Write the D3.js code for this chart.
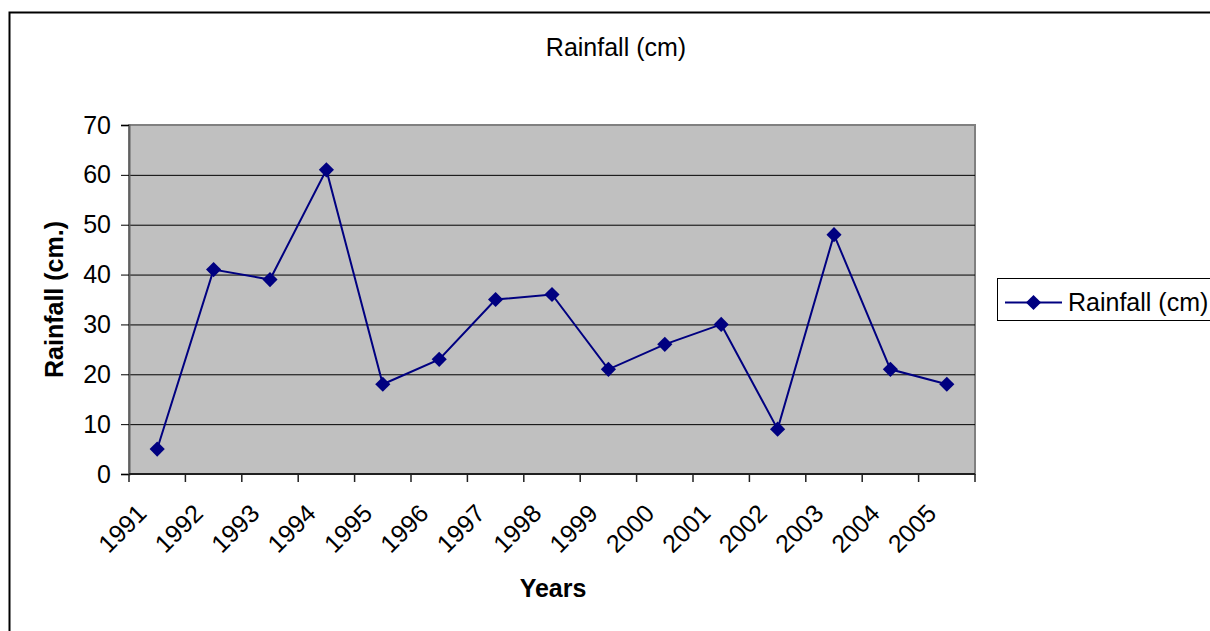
<!DOCTYPE html>
<meta charset="utf-8">
<script src="https://d3js.org/d3.v7.min.js"></script>
<style>
body { margin: 0; background: #fff; }
text { font-family: "Liberation Sans", Arial, sans-serif; fill: #000; }
</style>
<div id="chart"></div>
<script>
// data
var years = ["1991","1992","1993","1994","1995","1996","1997","1998","1999","2000","2001","2002","2003","2004","2005"];
var rainfall = [5, 41, 39, 61, 18, 23, 35, 36, 21, 26, 30, 9, 48, 21, 18];
var yTicks = [0, 10, 20, 30, 40, 50, 60, 70];
var seriesName = "Rainfall (cm)";

var W = 1210, H = 631;
var plot = {left: 129, top: 125, right: 975, bottom: 474};

var svg = d3.select("#chart").append("svg")
  .attr("width", W).attr("height", H);

// outer chart border (runs past the right and bottom edge)
svg.append("rect")
  .attr("x", 9.5).attr("y", 12.5)
  .attr("width", 1400).attr("height", 800)
  .attr("fill", "none").attr("stroke", "#000").attr("stroke-width", 2);

var x = d3.scaleBand().domain(years).range([plot.left, plot.right]).padding(0);
var y = d3.scaleLinear().domain([0, 70]).range([plot.bottom, plot.top]);

// plot area
svg.append("rect")
  .attr("x", plot.left).attr("y", plot.top)
  .attr("width", plot.right - plot.left).attr("height", plot.bottom - plot.top)
  .attr("fill", "#c0c0c0").attr("stroke", "#808080").attr("stroke-width", 2);

// gridlines
svg.append("g").selectAll("line")
  .data(yTicks.filter(function(d){ return d > 0 && d < 70; }))
  .enter().append("line")
    .attr("x1", plot.left).attr("x2", plot.right)
    .attr("y1", function(d){ return y(d) + 0.5; })
    .attr("y2", function(d){ return y(d) + 0.5; })
    .attr("stroke", "#000").attr("stroke-width", 1);

// y axis
var yAxis = svg.append("g")
  .attr("transform", "translate(" + plot.left + ",0)")
  .call(d3.axisLeft(y).tickValues(yTicks).tickSize(8).tickPadding(10));
yAxis.select(".domain").attr("stroke", "#606060").attr("stroke-width", 2);
yAxis.selectAll(".tick line").attr("stroke", "#000");
yAxis.selectAll(".tick text").style("font-size", "25px").attr("fill", "#000");

// x axis: ticks on category boundaries
var bounds = years.map(function(d){ return x(d); }).concat([plot.right]);
svg.append("line")
  .attr("x1", plot.left).attr("x2", plot.right)
  .attr("y1", plot.bottom).attr("y2", plot.bottom)
  .attr("stroke", "#202020").attr("stroke-width", 2);
svg.append("g").selectAll("line")
  .data(bounds).enter().append("line")
    .attr("x1", function(d){ return d; }).attr("x2", function(d){ return d; })
    .attr("y1", plot.bottom).attr("y2", plot.bottom + 8)
    .attr("stroke", "#202020").attr("stroke-width", 1.5);

svg.append("g").selectAll("text")
  .data(years).enter().append("text")
    .attr("transform", function(d){
      return "translate(" + (x(d) + x.bandwidth() / 2 - 9) + "," + (plot.bottom + 41) + ") rotate(-45)";
    })
    .attr("text-anchor", "end")
    .style("font-size", "25px")
    .text(function(d){ return d; });

// line and markers
var cx = function(d, i){ return x(years[i]) + x.bandwidth() / 2; };
var line = d3.line()
  .x(function(d, i){ return cx(d, i); })
  .y(function(d){ return y(d); });

svg.append("path")
  .datum(rainfall)
  .attr("d", line)
  .attr("fill", "none").attr("stroke", "#000080").attr("stroke-width", 2);

var diamond = d3.symbol().type(d3.symbolSquare).size(115);
svg.append("g").selectAll("path")
  .data(rainfall).enter().append("path")
    .attr("d", diamond)
    .attr("transform", function(d, i){
      return "translate(" + cx(d, i) + "," + y(d) + ") rotate(45)";
    })
    .attr("fill", "#000080");

// titles
svg.append("text")
  .attr("x", 616).attr("y", 56)
  .attr("text-anchor", "middle")
  .style("font-size", "25px")
  .text("Rainfall (cm)");

svg.append("text")
  .attr("x", 553).attr("y", 597)
  .attr("text-anchor", "middle")
  .style("font-size", "25px").style("font-weight", "bold")
  .text("Years");

svg.append("text")
  .attr("transform", "translate(63," + ((plot.top + plot.bottom) / 2) + ") rotate(-90)")
  .attr("text-anchor", "middle")
  .style("font-size", "25px").style("font-weight", "bold")
  .text("Rainfall (cm.)");

// legend
var lg = svg.append("g").attr("transform", "translate(997,278)");
lg.append("rect")
  .attr("x", 0.5).attr("y", 0.5).attr("width", 300).attr("height", 42)
  .attr("fill", "#fff").attr("stroke", "#000").attr("stroke-width", 1);
lg.append("line")
  .attr("x1", 8).attr("x2", 65).attr("y1", 24.5).attr("y2", 24.5)
  .attr("stroke", "#000080").attr("stroke-width", 2);
lg.append("path")
  .attr("d", diamond)
  .attr("transform", "translate(36.5,24.5) rotate(45)")
  .attr("fill", "#000080");
lg.append("text")
  .attr("x", 71).attr("y", 33)
  .style("font-size", "25px")
  .text(seriesName);
</script>
